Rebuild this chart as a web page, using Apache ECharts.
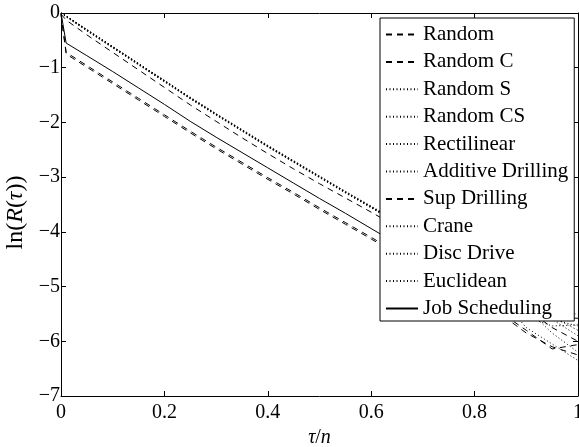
<!DOCTYPE html>
<html>
<head>
<meta charset="utf-8">
<script src="https://cdn.jsdelivr.net/npm/echarts@6/dist/echarts.min.js"></script>
<style>
  html, body { margin: 0; padding: 0; background: #fff; }
  #chart { width: 579px; height: 447px; }
</style>
</head>
<body>
<div id="chart"></div>
<script>
// Sampling positions along tau/n
const tauN = [0, 0.01, 0.05, 0.1, 0.15, 0.2, 0.25, 0.3, 0.35, 0.4, 0.45, 0.5,
              0.55, 0.6, 0.65, 0.7, 0.75, 0.8, 0.85, 0.9, 0.95, 1.0];

// ln(R(tau)) for each instance family
const random = [-0.02, -0.72, -0.96, -1.26, -1.56, -1.86, -2.16, -2.45, -2.73, -3.01, -3.28, -3.56,
                -3.83, -4.10, -4.38, -4.65, -4.93, -5.20, -5.47, -5.80, -6.14, -6.06];
const randomC = [-0.03, -0.75, -0.99, -1.29, -1.59, -1.89, -2.19, -2.48, -2.76, -3.04, -3.31, -3.59,
                 -3.86, -4.13, -4.41, -4.68, -4.96, -5.23, -5.50, -5.85, -6.10, -6.25];
const randomS = [0, -0.06, -0.31, -0.62, -0.93, -1.24, -1.55, -1.85, -2.14, -2.43, -2.71, -2.99,
                 -3.27, -3.54, -3.81, -4.08, -4.35, -4.62, -4.95, -5.30, -5.60, -5.72];
const randomCS = [0, -0.07, -0.33, -0.64, -0.95, -1.26, -1.57, -1.87, -2.16, -2.45, -2.73, -3.01,
                  -3.29, -3.56, -3.84, -4.12, -4.42, -4.72, -5.05, -5.55, -5.72, -5.70];
const rectilinear = [0, -0.05, -0.30, -0.61, -0.92, -1.23, -1.54, -1.84, -2.13, -2.42, -2.70, -2.98,
                     -3.26, -3.54, -3.84, -4.14, -4.46, -4.80, -5.20, -5.75, -6.05, -6.35];
const additiveDrilling = [0, -0.06, -0.32, -0.63, -0.94, -1.25, -1.56, -1.86, -2.15, -2.44, -2.72, -3.00,
                          -3.28, -3.55, -3.82, -4.09, -4.36, -4.63, -4.90, -5.20, -5.50, -5.50];
const supDrilling = [-0.02, -0.13, -0.40, -0.72, -1.04, -1.36, -1.68, -1.98, -2.28, -2.57, -2.85, -3.12,
                     -3.38, -3.64, -3.91, -4.19, -4.47, -4.76, -5.06, -5.40, -5.75, -6.00];
const crane = [0, -0.06, -0.31, -0.62, -0.93, -1.24, -1.55, -1.85, -2.15, -2.44, -2.72, -3.00,
               -3.28, -3.56, -3.84, -4.12, -4.42, -4.74, -5.05, -5.40, -5.85, -6.20];
const discDrive = [0, -0.07, -0.32, -0.63, -0.94, -1.25, -1.56, -1.86, -2.15, -2.44, -2.72, -3.00,
                   -3.28, -3.55, -3.83, -4.10, -4.38, -4.66, -4.95, -5.25, -5.60, -5.90];
const euclidean = [0, -0.05, -0.30, -0.61, -0.92, -1.23, -1.54, -1.84, -2.13, -2.42, -2.70, -2.98,
                   -3.26, -3.53, -3.80, -4.07, -4.34, -4.61, -4.90, -5.22, -5.55, -5.80];
const jobScheduling = [0, -0.55, -0.78, -1.07, -1.37, -1.67, -1.98, -2.27, -2.55, -2.83, -3.11, -3.39,
                       -3.66, -3.94, -4.22, -4.49, -4.77, -5.04, -5.25, -5.45, -5.55, -5.58];

const seriesNames = ['Random', 'Random C', 'Random S', 'Random CS', 'Rectilinear',
                     'Additive Drilling', 'Sup Drilling', 'Crane', 'Disc Drive', 'Euclidean',
                     'Job Scheduling'];
const seriesValues = [random, randomC, randomS, randomCS, rectilinear, additiveDrilling,
                      supDrilling, crane, discDrive, euclidean, jobScheduling];
const seriesDash = ['dashed', 'dashed', 'dotted', 'dotted', 'dotted', 'dotted',
                    'dashed', 'dotted', 'dotted', 'dotted', 'solid'];

const FONT = 'Liberation Serif, Times New Roman, serif';
const dashStyles = { dashed: [6, 5], dotted: [1, 2.5], solid: 'solid' };

const chart = echarts.init(document.getElementById('chart'), null, { renderer: 'canvas' });

const series = seriesNames.map((name, i) => ({
  name: name,
  type: 'line',
  xAxisIndex: 0,
  yAxisIndex: 0,
  symbol: 'none',
  smooth: false,
  data: tauN.map((t, k) => [t, seriesValues[i][k]]),
  lineStyle: { color: '#000', width: 1, type: dashStyles[seriesDash[i]] },
  itemStyle: { color: '#000' },
  z: 2
}));

const tickLabel = v => {
  const s = Math.abs(v) < 1e-9 ? '0' : String(+v.toFixed(1));
  return s.replace('-', '\u2212');
};

const baseAxis = {
  axisLine: { show: true, onZero: false, lineStyle: { color: '#000', width: 1 } },
  axisTick: { show: true, inside: true, length: 5, lineStyle: { color: '#000', width: 1 } },
  splitLine: { show: false }
};

const nameRich = size => ({
  i: { fontStyle: 'italic', fontFamily: FONT, fontSize: size, color: '#000' },
  n: { fontFamily: FONT, fontSize: size, color: '#000' }
});

chart.setOption({
  animation: false,
  backgroundColor: '#fff',
  grid: { left: 61, right: 1, top: 13, bottom: 51, containLabel: false, outerBoundsMode: 'none' },
  xAxis: [
    Object.assign({}, baseAxis, {
      type: 'value', position: 'bottom', min: 0, max: 1, interval: 0.2,
      axisLabel: { margin: 7, color: '#000', fontFamily: FONT, fontSize: 20,
                   formatter: tickLabel, showMinLabel: true, showMaxLabel: true },
      name: '{i|\u03c4}{n|/}{i|n}',
      nameLocation: 'middle', nameGap: 30,
      nameTextStyle: { color: '#000', fontFamily: FONT, fontSize: 20, rich: nameRich(20) }
    }),
    Object.assign({}, baseAxis, {
      type: 'value', position: 'top', min: 0, max: 1, interval: 0.2,
      axisLabel: { show: false }
    })
  ],
  yAxis: [
    Object.assign({}, baseAxis, {
      type: 'value', position: 'left', min: -7, max: 0, interval: 1,
      axisLabel: { margin: 1, color: '#000', fontFamily: FONT, fontSize: 20,
                   formatter: tickLabel, showMinLabel: true, showMaxLabel: true },
      name: '{n|ln(}{i|R}{n|(}{i|\u03c4}{n|))}',
      nameLocation: 'middle', nameGap: 32, nameRotate: 90,
      nameTextStyle: { color: '#000', fontFamily: FONT, fontSize: 24, rich: nameRich(24),
                       padding: [0, 16, 0, 0] }
    }),
    Object.assign({}, baseAxis, {
      type: 'value', position: 'right', min: -7, max: 0, interval: 1,
      axisLabel: { show: false }
    })
  ],
  legend: {
    show: true,
    orient: 'vertical',
    left: 380, top: 18,
    padding: [6, 6, 2, 5],
    itemWidth: 32, itemHeight: 20, itemGap: 6.4,
    backgroundColor: '#fff',
    borderColor: '#000', borderWidth: 1, borderRadius: 0,
    selectedMode: false,
    itemStyle: { color: 'rgba(0,0,0,0)', borderColor: 'rgba(0,0,0,0)', borderWidth: 0 },
    textStyle: { color: '#000', fontFamily: FONT, fontSize: 21 },
    z: 10
  },
  series: series
});
</script>
</body>
</html>
